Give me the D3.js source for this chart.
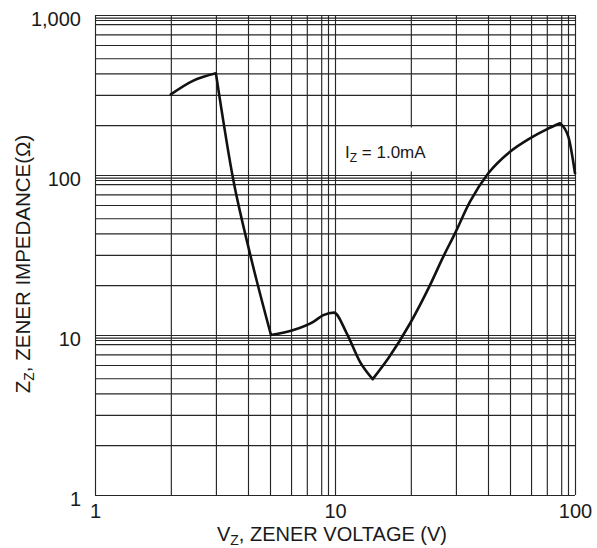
<!DOCTYPE html>
<html>
<head>
  <meta charset="utf-8">
  <title>Zener Impedance vs Zener Voltage</title>
  <script src="https://d3js.org/d3.v7.min.js"></script>
  <style>
    body { margin: 0; background: #fff; }
    text { font-family: "Liberation Sans", Arial, sans-serif; fill: #1a1a1a; }
    .grid line { stroke: #262626; stroke-width: 1.15; }
    .grid path { display: none; }
    .curve { fill: none; stroke: #111; stroke-width: 2.6; stroke-linejoin: round; stroke-linecap: round; }
  </style>
</head>
<body>
  <svg id="chart" width="597" height="548"></svg>
  <script>
    // curve: zener voltage (V) and impedance (ohm)
    const vz = [2.07, 2.57, 3.19, 3.77, 4.42, 5.41, 6.71, 8.12, 8.94, 9.9,
                11.19, 12.71, 14.36, 16.68, 20.54, 24.88, 28.27, 31.62, 36.52,
                43.53, 53.6, 64.9, 76.2, 86.6, 93.8, 100];
    const zz = [319, 389, 432, 93, 32.4, 10, 10.75, 12.1, 13.3, 13.8,
                10.25, 6.8, 5.3, 7.15, 11.8, 20.5, 30.9, 43.2, 68.1,
                102.5, 139.8, 169.6, 193, 210.5, 173.6, 102.5];
    // voltages where the printed curve has a sharp corner
    const corners = [3.19, 5.41, 14.36, 86.6];

    // grid positions inside one decade (the printed grid is not exactly log spaced)
    const xMinor = [2.07, 3.19, 4.34, 5.36, 6.56, 7.63, 8.76, 9.35];
    const yMinor = [2.05, 3.17, 4.32, 5.37, 6.49, 7.57, 8.76, 9.31, 9.62];
    const xDecades = [1, 10];
    const yDecades = [1, 10, 100];

    const xTicks = [1, 10, 100];
    const yTicks = [1, 10, 100, 1000];

    const svg = d3.select("#chart");
    const plotL = 95, plotR = 575, plotT = 15, plotB = 495;

    const x = d3.scaleLog().domain([1, 100]).range([plotL, plotR]);
    const y = d3.scaleLog().domain([1, 1000]).range([plotB, plotT]);

    const gridX = xDecades.flatMap(d => xMinor.map(m => d * m)).concat([1, 10, 100]);
    const gridY = yDecades.flatMap(d => yMinor.map(m => d * m)).concat([1, 10, 100, 1000]);

    // vertical grid
    svg.append("g")
      .attr("class", "grid")
      .attr("transform", `translate(0,${plotB})`)
      .call(d3.axisBottom(x).tickValues(gridX).tickSize(-(plotB - plotT)).tickFormat(""));

    // horizontal grid
    svg.append("g")
      .attr("class", "grid")
      .attr("transform", `translate(${plotL},0)`)
      .call(d3.axisLeft(y).tickValues(gridY).tickSize(-(plotR - plotL)).tickFormat(""));

    // white box behind the annotation
    svg.append("rect")
      .attr("x", 342).attr("y", 127.5)
      .attr("width", 86).attr("height", 44)
      .attr("fill", "#fff");

    svg.append("text")
      .attr("x", 345).attr("y", 158)
      .style("font-size", "17px")
      .html('I<tspan dy="4" style="font-size:12px">Z</tspan><tspan dy="-4"> = 1.0mA</tspan>');

    // the curve, smooth between its corners
    const pts = d3.zip(vz, zz);
    const pieces = [];
    let run = [];
    pts.forEach(p => {
      run.push(p);
      if (corners.includes(p[0])) { pieces.push(run); run = [p]; }
    });
    pieces.push(run);

    const line = d3.line()
      .x(d => x(d[0]))
      .y(d => y(d[1]))
      .curve(d3.curveMonotoneX);

    svg.append("path")
      .attr("class", "curve")
      .attr("d", pieces.map(line).join(""));

    // tick labels
    const yAxis = svg.append("g")
      .attr("transform", `translate(${plotL},0)`)
      .call(d3.axisLeft(y).tickValues(yTicks).tickSize(0).tickPadding(14).tickFormat(d3.format(",")));
    yAxis.select(".domain").remove();
    yAxis.selectAll("text")
      .attr("fill", "#1a1a1a")
      .attr("dy", "0.5em")
      .style("font-size", "20px")
      .style("font-family", '"Liberation Sans", Arial, sans-serif');

    const xAxis = svg.append("g")
      .attr("transform", `translate(0,${plotB})`)
      .call(d3.axisBottom(x).tickValues(xTicks).tickSize(0).tickPadding(9).tickFormat(d3.format("d")));
    xAxis.select(".domain").remove();
    xAxis.selectAll("text")
      .attr("fill", "#1a1a1a")
      .style("font-size", "20px")
      .style("font-family", '"Liberation Sans", Arial, sans-serif');

    // axis titles
    svg.append("text")
      .attr("x", 332).attr("y", 541)
      .attr("text-anchor", "middle")
      .style("font-size", "20px")
      .html('V<tspan dy="4" style="font-size:14px">Z</tspan><tspan dy="-4">, ZENER VOLTAGE (V)</tspan>');

    svg.append("text")
      .attr("transform", "translate(30,264) rotate(-90)")
      .attr("text-anchor", "middle")
      .style("font-size", "20.5px")
      .html('Z<tspan dy="4" style="font-size:14px">Z</tspan><tspan dy="-4">, ZENER IMPEDANCE(Ω)</tspan>');
  </script>
</body>
</html>
